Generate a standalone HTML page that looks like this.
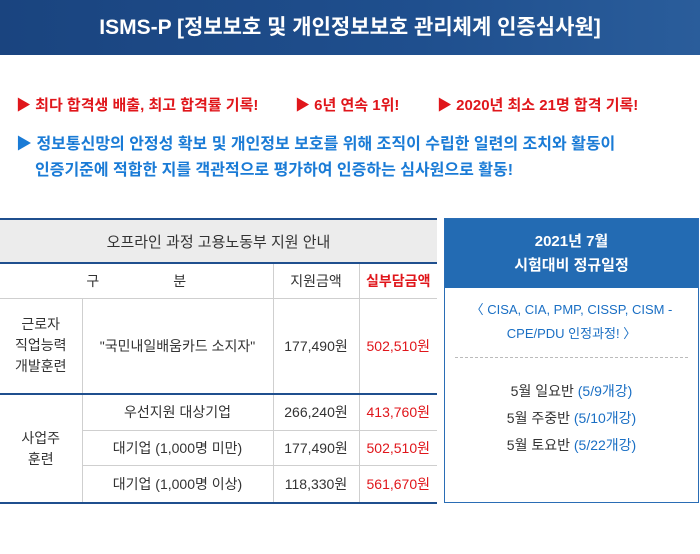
<!DOCTYPE html>
<html><head><meta charset="utf-8"><style>
*{margin:0;padding:0;box-sizing:border-box}
body{width:700px;height:554px;background:#fff;font-family:"Liberation Sans","Noto Sans CJK KR",sans-serif;position:relative;overflow:hidden;color:#333}
.abs{position:absolute}
#hdr{left:0;top:0;width:700px;height:55px;background:linear-gradient(90deg,#1a447f,#1f4f8e 60%,#2a5d9b);color:#fff;font-size:21px;font-weight:bold;text-align:center;line-height:55px}
.red{color:#e0161b;font-size:15px;font-weight:bold;top:94px;white-space:nowrap}
.blue{color:#1a7bd6;font-size:16px;font-weight:bold;white-space:nowrap}
table{position:absolute;left:0;top:218px;width:437px;border-collapse:collapse;font-size:14px;text-align:center;color:#333}
td,th{border:1px solid #cfcfcf;font-weight:normal}
tr>*:first-child{border-left:none}
tr>*:last-child{border-right:none}
.r{color:#e0161b}
#side{left:444px;top:218px;width:255px;height:285px;border:1px solid #2a6db5}
#sidehd{background:#236bb3;color:#fff;font-weight:bold;font-size:15px;text-align:center;height:69px;padding-top:11px;line-height:24px}
</style></head><body>
<div id="hdr" class="abs">ISMS-P [정보보호 및 개인정보보호 관리체계 인증심사원]</div>
<div class="abs red" style="left:16px">▶ 최다 합격생 배출, 최고 합격률 기록!</div>
<div class="abs red" style="left:295px">▶ 6년 연속 1위!</div>
<div class="abs red" style="left:437px">▶ 2020년 최소 21명 합격 기록!</div>
<div class="abs blue" style="left:16px;top:130px">▶ 정보통신망의 안정성 확보 및 개인정보 보호를 위해 조직이 수립한 일련의 조치와 활동이</div>
<div class="abs blue" style="left:35px;top:156px">인증기준에 적합한 지를 객관적으로 평가하여 인증하는 심사원으로 활동!</div>
<table>
<tr style="height:44px;background:#ececec;border-top:2px solid #1f4f8e;border-bottom:2px solid #1f4f8e"><th colspan="4" style="font-size:15px;border:none">오프라인 과정 고용노동부 지원 안내</th></tr>
<tr style="height:35px"><th colspan="2" style="word-spacing:70px">구 분</th><th style="width:86px">지원금액</th><th class="r" style="width:78px;font-weight:bold">실부담금액</th></tr>
<tr style="height:96px;border-bottom:2px solid #1f4f8e"><td style="width:82px;line-height:21px">근로자<br>직업능력<br>개발훈련</td><td>"국민내일배움카드 소지자"</td><td>177,490원</td><td class="r">502,510원</td></tr>
<tr style="height:36px"><td rowspan="3" style="line-height:21px">사업주<br>훈련</td><td>우선지원 대상기업</td><td>266,240원</td><td class="r">413,760원</td></tr>
<tr style="height:35px"><td>대기업 (1,000명 미만)</td><td>177,490원</td><td class="r">502,510원</td></tr>
<tr style="height:38px;border-bottom:2px solid #1f4f8e"><td>대기업 (1,000명 이상)</td><td>118,330원</td><td class="r">561,670원</td></tr>
</table>
<div id="side" class="abs">
<div id="sidehd">2021년 7월<br>시험대비 정규일정</div>
<div style="color:#1a6fc4;font-size:13px;text-align:center;line-height:24px;margin-top:10px">〈 CISA, CIA, PMP, CISSP, CISM -<br>CPE/PDU 인정과정! 〉</div>
<div style="border-top:1px dashed #bbb;margin:11px 10px 0"></div>
<div style="text-align:center;font-size:14px;line-height:27px;margin-top:20px;color:#333">
<div>5월 일요반 <span style="color:#1a6fc4">(5/9개강)</span></div>
<div>5월 주중반 <span style="color:#1a6fc4">(5/10개강)</span></div>
<div>5월 토요반 <span style="color:#1a6fc4">(5/22개강)</span></div>
</div>
</div>
</body></html>
